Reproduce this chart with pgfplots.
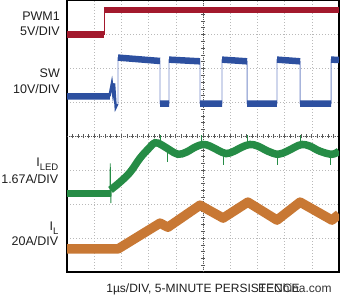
\documentclass[border=0pt]{standalone}
\usepackage{fontspec}
\setmainfont{Liberation Sans}
\usepackage{pgfplots}
\pgfplotsset{compat=1.18}
\definecolor{pwm}{RGB}{163,25,45}
\definecolor{sw}{RGB}{45,80,160}
\definecolor{swedge}{RGB}{120,140,200}
\definecolor{led}{RGB}{38,140,70}
\definecolor{il}{RGB}{200,120,52}
\definecolor{txt}{RGB}{30,30,30}
\newcommand{\lbl}{\fontsize{12.5}{15}\selectfont}
\newcommand{\sub}[1]{\raisebox{-3.5pt}{\fontsize{9.5}{10}\selectfont #1}}
\begin{document}
\begin{tikzpicture}
\path[use as bounding box] (0,0) rectangle (340pt,297pt);
\begin{axis}[
  scale only axis, width=272pt, height=271.4pt,
  at={(67pt,25pt)}, anchor=south west,
  xmin=0, xmax=10, ymin=0, ymax=8,
  xtick={0,...,10}, ytick={0,...,8},
  xticklabels={}, yticklabels={},
  major tick length=0pt,
  grid=major,
  grid style={gray!55, line width=0.6pt, dash pattern=on 0.8pt off 2.2pt},
  axis line style={black, line width=1.2pt},
  unbounded coords=jump,
  clip=true,
]
% centre lines with ticks
\draw[gray!70!black, line width=0.7pt, dash pattern=on 1pt off 1pt] (axis cs:5,0) -- (axis cs:5,8);
\draw[gray!70!black, line width=0.7pt, dash pattern=on 1pt off 1pt] (axis cs:0,4) -- (axis cs:10,4);
\pgfplotsinvokeforeach{0.2,0.4,...,7.8}{\draw[gray!70!black, line width=0.6pt] ([xshift=-2pt]axis cs:5,#1) -- ([xshift=2pt]axis cs:5,#1);}
\pgfplotsinvokeforeach{0.2,0.4,...,9.8}{\draw[gray!70!black, line width=0.6pt] ([yshift=-2pt]axis cs:#1,4) -- ([yshift=2pt]axis cs:#1,4);}

% PWM1
\addplot[pwm, line width=0.9pt] coordinates {(1.36,7.0) (1.36,7.72)};
\addplot[pwm, line width=6.5pt] coordinates {(0,7.0) (1.36,7.0) (1.36,nan) (1.36,7.72) (10,7.72)};

% SW
\addplot[swedge, line width=0.9pt] coordinates {(0,5.18)(1.58,5.18)(1.65,5.56)(1.69,5.29)(1.73,5.56)(1.79,4.85)(1.875,4.95)(1.875,6.32)(3.42,6.22)(3.42,4.96)(3.75,4.96)(3.75,6.26)(4.89,6.21)(4.89,4.96)(5.70,4.96)(5.70,6.26)(6.62,6.21)(6.62,4.96)(7.72,4.96)(7.72,6.26)(8.57,6.21)(8.57,4.96)(9.71,4.96)(9.71,6.26)(10,6.25)};
\addplot[sw, line width=2.4pt] coordinates {(1.56,5.18)(1.65,5.56)(1.69,5.29)(1.73,5.56)(1.79,4.85)(1.85,4.95)};
\addplot[sw, line width=6.5pt] coordinates {(0,5.18)(1.58,5.18)(1.58,nan)(1.875,6.32)(3.42,6.22)(3.42,nan)(3.42,4.96)(3.75,4.96)(3.75,nan)(3.75,6.26)(4.89,6.21)(4.89,nan)(4.89,4.96)(5.70,4.96)(5.70,nan)(5.70,6.26)(6.62,6.21)(6.62,nan)(6.62,4.96)(7.72,4.96)(7.72,nan)(7.72,6.26)(8.57,6.21)(8.57,nan)(8.57,4.96)(9.71,4.96)(9.71,nan)(9.71,6.26)(10,6.25)};

% ILED
\addplot[led, line width=0.9pt] coordinates {(1.58,2.31)(1.59,3.2)(1.61,2.03)(1.63,2.45)};
\addplot[led, line width=0.9pt] coordinates {(3.42,3.72)(3.42,4.03)(3.42,nan)(3.71,3.55)(3.71,3.24)(3.71,nan)(4.96,3.76)(4.96,4.03)(4.96,nan)(5.74,3.55)(5.74,3.15)(5.74,nan)(6.65,3.76)(6.65,4.03)(6.65,nan)(7.72,3.5)(7.72,3.15)(7.72,nan)(8.60,3.76)(8.60,4.03)(8.60,nan)(9.67,3.5)(9.67,3.15)};
\addplot[led, line width=7pt] coordinates {(0,2.31)(1.6,2.31)};
\addplot[led, line width=7.5pt, smooth, tension=0.6] coordinates {(1.6,2.42)(1.95,2.65)(2.32,2.94)(2.68,3.35)(2.98,3.62)(3.24,3.81)(3.49,3.74)(3.79,3.59)(4.08,3.47)(4.38,3.53)(4.71,3.68)(5.0,3.76)(5.26,3.71)(5.55,3.59)(5.85,3.49)(6.14,3.56)(6.43,3.68)(6.73,3.76)(7.02,3.71)(7.39,3.56)(7.76,3.47)(8.09,3.56)(8.38,3.68)(8.64,3.76)(8.93,3.71)(9.30,3.56)(9.74,3.47)(10,3.56)};

% IL
\addplot[il, line width=9.5pt, line join=round] coordinates {(0,0.68)(1.875,0.68)(3.42,1.44)(3.71,1.32)(4.89,1.97)(5.74,1.59)(6.65,2.06)(7.72,1.53)(8.57,2.06)(9.74,1.53)(10,1.70)};
\end{axis}

\begin{scope}[every node/.style={inner sep=0pt, text=txt}]
\node[anchor=base east, font=\lbl] at (60pt,276.3pt) {PWM1};
\node[anchor=base east, font=\lbl] at (60pt,261pt) {5V/DIV};
\node[anchor=base east, font=\lbl] at (60pt,219.7pt) {SW};
\node[anchor=base east, font=\lbl] at (60pt,203.7pt) {10V/DIV};
\node[anchor=base east, font=\lbl] at (58.5pt,130pt) {I\sub{LED}};
\node[anchor=base east, font=\lbl] at (58.5pt,113.7pt) {1.67A/DIV};
\node[anchor=base east, font=\lbl] at (58.5pt,66.3pt) {I\sub{L}};
\node[anchor=base east, font=\lbl] at (58.5pt,51pt) {20A/DIV};
\node[anchor=base, font=\fontsize{12}{14}\selectfont] at (203pt,4pt) {1µs/DIV, 5-MINUTE PERSISTENCE};
\node[anchor=base west, font=\fontsize{12}{14}\selectfont, text=black!80] at (258pt,4pt) {EEChina.com};
\end{scope}
\end{tikzpicture}
\end{document}
